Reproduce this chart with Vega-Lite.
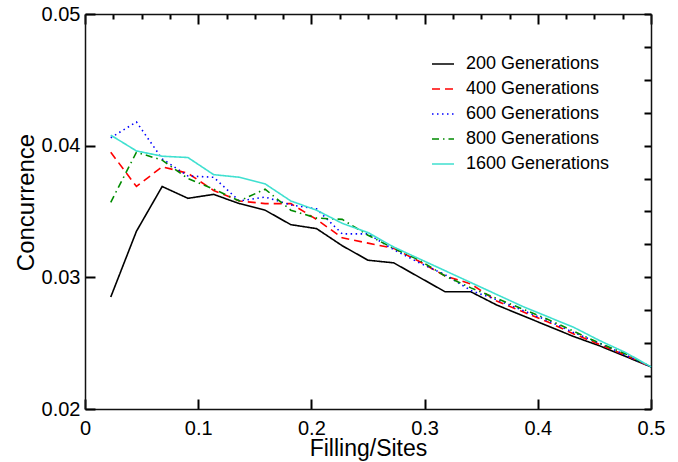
{
  "$schema": "https://vega.github.io/schema/vega-lite/v6.json",
  "width": 566,
  "height": 395,
  "autosize": {"type": "none"},
  "padding": {"left": 85, "top": 14, "right": 27, "bottom": 53},
  "config": {
    "view": {"stroke": null},
    "font": "Liberation Sans",
    "axis": {"grid": false, "domainColor": "#111", "domainWidth": 1.5, "labelFlush": false, "labelOverlap": false}
  },
  "data": {"values": [
    {"x":0.02273,"g":"200 Generations","c":0.0285},{"x":0.04545,"g":"200 Generations","c":0.0335},{"x":0.06818,"g":"200 Generations","c":0.0369},{"x":0.09091,"g":"200 Generations","c":0.0360},{"x":0.11364,"g":"200 Generations","c":0.0363},{"x":0.13636,"g":"200 Generations","c":0.0356},{"x":0.15909,"g":"200 Generations","c":0.0351},{"x":0.18182,"g":"200 Generations","c":0.0340},{"x":0.20455,"g":"200 Generations","c":0.0337},{"x":0.22727,"g":"200 Generations","c":0.0324},{"x":0.25,"g":"200 Generations","c":0.0313},{"x":0.27273,"g":"200 Generations","c":0.0311},{"x":0.29545,"g":"200 Generations","c":0.0300},{"x":0.31818,"g":"200 Generations","c":0.0289},{"x":0.34091,"g":"200 Generations","c":0.0289},{"x":0.36364,"g":"200 Generations","c":0.0279},{"x":0.38636,"g":"200 Generations","c":0.0271},{"x":0.40909,"g":"200 Generations","c":0.0263},{"x":0.43182,"g":"200 Generations","c":0.0255},{"x":0.45455,"g":"200 Generations","c":0.0248},{"x":0.47727,"g":"200 Generations","c":0.0240},{"x":0.5,"g":"200 Generations","c":0.0232},
    {"x":0.02273,"g":"400 Generations","c":0.0395},{"x":0.04545,"g":"400 Generations","c":0.0369},{"x":0.06818,"g":"400 Generations","c":0.0384},{"x":0.09091,"g":"400 Generations","c":0.0379},{"x":0.11364,"g":"400 Generations","c":0.0366},{"x":0.13636,"g":"400 Generations","c":0.0358},{"x":0.15909,"g":"400 Generations","c":0.0356},{"x":0.18182,"g":"400 Generations","c":0.0356},{"x":0.20455,"g":"400 Generations","c":0.0344},{"x":0.22727,"g":"400 Generations","c":0.0330},{"x":0.25,"g":"400 Generations","c":0.0326},{"x":0.27273,"g":"400 Generations","c":0.0322},{"x":0.29545,"g":"400 Generations","c":0.0312},{"x":0.31818,"g":"400 Generations","c":0.0301},{"x":0.34091,"g":"400 Generations","c":0.0295},{"x":0.36364,"g":"400 Generations","c":0.0282},{"x":0.38636,"g":"400 Generations","c":0.0274},{"x":0.40909,"g":"400 Generations","c":0.0266},{"x":0.43182,"g":"400 Generations","c":0.0257},{"x":0.45455,"g":"400 Generations","c":0.0249},{"x":0.47727,"g":"400 Generations","c":0.0241},{"x":0.5,"g":"400 Generations","c":0.0232},
    {"x":0.02273,"g":"600 Generations","c":0.0406},{"x":0.04545,"g":"600 Generations","c":0.0418},{"x":0.06818,"g":"600 Generations","c":0.0390},{"x":0.09091,"g":"600 Generations","c":0.0377},{"x":0.11364,"g":"600 Generations","c":0.0376},{"x":0.13636,"g":"600 Generations","c":0.0358},{"x":0.15909,"g":"600 Generations","c":0.0361},{"x":0.18182,"g":"600 Generations","c":0.0355},{"x":0.20455,"g":"600 Generations","c":0.0352},{"x":0.22727,"g":"600 Generations","c":0.0333},{"x":0.25,"g":"600 Generations","c":0.0333},{"x":0.27273,"g":"600 Generations","c":0.0321},{"x":0.29545,"g":"600 Generations","c":0.0311},{"x":0.31818,"g":"600 Generations","c":0.0302},{"x":0.34091,"g":"600 Generations","c":0.0290},{"x":0.36364,"g":"600 Generations","c":0.0283},{"x":0.38636,"g":"600 Generations","c":0.0275},{"x":0.40909,"g":"600 Generations","c":0.0267},{"x":0.43182,"g":"600 Generations","c":0.0258},{"x":0.45455,"g":"600 Generations","c":0.0250},{"x":0.47727,"g":"600 Generations","c":0.0241},{"x":0.5,"g":"600 Generations","c":0.0232},
    {"x":0.02273,"g":"800 Generations","c":0.0357},{"x":0.04545,"g":"800 Generations","c":0.0395},{"x":0.06818,"g":"800 Generations","c":0.0389},{"x":0.09091,"g":"800 Generations","c":0.0375},{"x":0.11364,"g":"800 Generations","c":0.0367},{"x":0.13636,"g":"800 Generations","c":0.0358},{"x":0.15909,"g":"800 Generations","c":0.0367},{"x":0.18182,"g":"800 Generations","c":0.0351},{"x":0.20455,"g":"800 Generations","c":0.0345},{"x":0.22727,"g":"800 Generations","c":0.0344},{"x":0.25,"g":"800 Generations","c":0.0332},{"x":0.27273,"g":"800 Generations","c":0.0322},{"x":0.29545,"g":"800 Generations","c":0.0313},{"x":0.31818,"g":"800 Generations","c":0.0301},{"x":0.34091,"g":"800 Generations","c":0.0292},{"x":0.36364,"g":"800 Generations","c":0.0284},{"x":0.38636,"g":"800 Generations","c":0.0276},{"x":0.40909,"g":"800 Generations","c":0.0268},{"x":0.43182,"g":"800 Generations","c":0.0259},{"x":0.45455,"g":"800 Generations","c":0.0250},{"x":0.47727,"g":"800 Generations","c":0.0242},{"x":0.5,"g":"800 Generations","c":0.0232},
    {"x":0.02273,"g":"1600 Generations","c":0.0408},{"x":0.04545,"g":"1600 Generations","c":0.0396},{"x":0.06818,"g":"1600 Generations","c":0.0392},{"x":0.09091,"g":"1600 Generations","c":0.0391},{"x":0.11364,"g":"1600 Generations","c":0.0378},{"x":0.13636,"g":"1600 Generations","c":0.0376},{"x":0.15909,"g":"1600 Generations","c":0.0371},{"x":0.18182,"g":"1600 Generations","c":0.0358},{"x":0.20455,"g":"1600 Generations","c":0.0351},{"x":0.22727,"g":"1600 Generations","c":0.0341},{"x":0.25,"g":"1600 Generations","c":0.0334},{"x":0.27273,"g":"1600 Generations","c":0.0323},{"x":0.29545,"g":"1600 Generations","c":0.0314},{"x":0.31818,"g":"1600 Generations","c":0.0305},{"x":0.34091,"g":"1600 Generations","c":0.0296},{"x":0.36364,"g":"1600 Generations","c":0.0287},{"x":0.38636,"g":"1600 Generations","c":0.0278},{"x":0.40909,"g":"1600 Generations","c":0.0270},{"x":0.43182,"g":"1600 Generations","c":0.0262},{"x":0.45455,"g":"1600 Generations","c":0.0252},{"x":0.47727,"g":"1600 Generations","c":0.0243},{"x":0.5,"g":"1600 Generations","c":0.0232}
  ]},
  "layer": [
    {
      "mark": {"type": "line", "strokeWidth": 1.6},
      "encoding": {
        "x": {"field": "x", "type": "quantitative",
              "scale": {"domain": [0, 0.5], "nice": false, "zero": false},
              "axis": {"orient": "bottom", "values": [0, 0.1, 0.2, 0.3, 0.4, 0.5], "format": "~g",
                       "tickSize": -10, "tickColor": "black", "tickWidth": 2, "labelPadding": 19,
                       "labelFontSize": 20, "labelColor": "#000", "title": "Filling/Sites", "titleFontSize": 23, "titleFontWeight": "normal", "titleColor": "#000",
                       "titleBaseline": "alphabetic", "titleY": 46}},
        "y": {"field": "c", "type": "quantitative",
              "scale": {"domain": [0.02, 0.05], "nice": false, "zero": false},
              "axis": {"orient": "left", "values": [0.02, 0.03, 0.04, 0.05], "format": "~g",
                       "tickSize": -10, "tickColor": "black", "tickWidth": 2, "labelPadding": 15,
                       "labelFontSize": 20, "labelColor": "#000", "title": "Concurrence", "titleFontSize": 24, "titleFontWeight": "normal", "titleColor": "#000",
                       "titleBaseline": "alphabetic", "titleX": -52, "titleY": 188}},
        "color": {"field": "g", "type": "nominal",
                  "scale": {"domain": ["200 Generations", "400 Generations", "600 Generations", "800 Generations", "1600 Generations"],
                            "range": ["#000000", "#ff0000", "#0000ff", "#008b00", "#40e0d0"]},
                  "legend": {"orient": "none", "legendX": 346, "legendY": 38, "title": null, "symbolType": "stroke", "symbolSize": 484,
                             "symbolStrokeWidth": 1.6, "labelFontSize": 18, "labelColor": "#000", "labelOffset": 11, "padding": 0, "rowPadding": 4}},
        "strokeDash": {"field": "g", "type": "nominal",
                       "scale": {"domain": ["200 Generations", "400 Generations", "600 Generations", "800 Generations", "1600 Generations"],
                                 "range": [[1, 0], [8, 5], [1.5, 3.5], [7, 4, 1.5, 4], [1, 0]]},
                       "legend": {"orient": "none", "legendX": 346, "legendY": 38, "title": null, "symbolType": "stroke", "symbolSize": 484,
                                  "symbolStrokeWidth": 1.6, "labelFontSize": 18, "labelColor": "#000", "labelOffset": 11, "padding": 0, "rowPadding": 4}}
      }
    },
    {
      "mark": {"type": "point", "opacity": 0},
      "encoding": {
        "x": {"field": "x", "type": "quantitative",
              "axis": {"orient": "top",
                       "values": [0, 0.025, 0.05, 0.075, 0.1, 0.125, 0.15, 0.175, 0.2, 0.225, 0.25, 0.275, 0.3, 0.325, 0.35, 0.375, 0.4, 0.425, 0.45, 0.475, 0.5],
                       "tickSize": -10, "tickColor": "black", "tickWidth": 2,
                       "tickDash": {"condition": {"test": "abs(datum.value*10 - round(datum.value*10)) < 0.001", "value": []}, "value": [5, 30]},
                       "labels": false, "title": null}},
        "y": {"field": "c", "type": "quantitative",
              "axis": {"orient": "right",
                       "values": [0.02, 0.0225, 0.025, 0.0275, 0.03, 0.0325, 0.035, 0.0375, 0.04, 0.0425, 0.045, 0.0475, 0.05],
                       "tickSize": -7, "tickColor": "black", "tickWidth": 2,
                       "labels": false, "title": null}}
      }
    }
  ],
  "resolve": {"axis": {"x": "independent", "y": "independent"}}
}
